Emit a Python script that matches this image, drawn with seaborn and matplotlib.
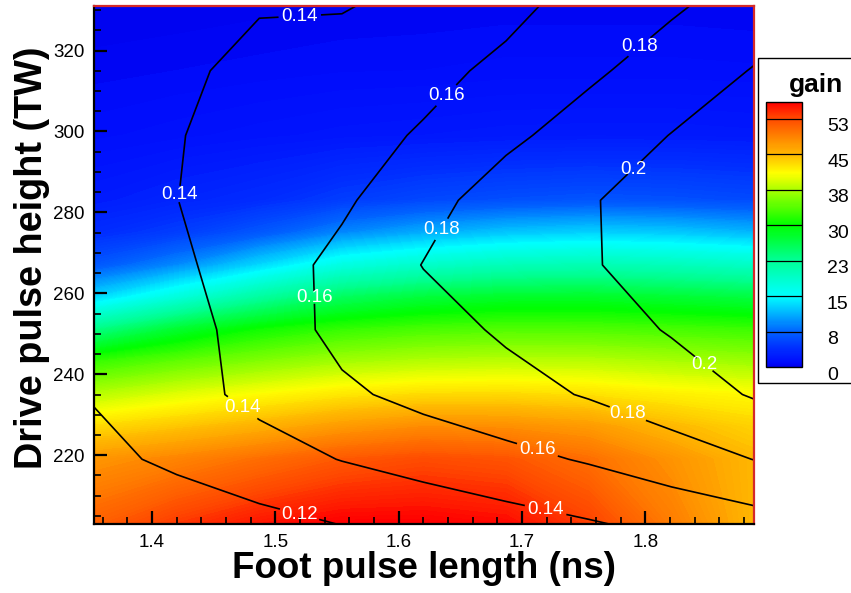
import numpy as np
import matplotlib
matplotlib.use("Agg")
import matplotlib.pyplot as plt
from matplotlib.colors import LinearSegmentedColormap, Normalize
from matplotlib.cm import ScalarMappable
from matplotlib.patches import Rectangle
from matplotlib.ticker import MultipleLocator, FixedLocator
import matplotlib.transforms as mtransforms
import seaborn as sns

# ---------------- data ----------------
foot_ns = [1.353, 1.420, 1.487, 1.554, 1.620, 1.687, 1.754, 1.821, 1.888]

# gain field (colour flood): rows follow gain_rows_tw (bottom -> top)
gain_rows_tw = [203, 219, 227, 235, 243, 251, 259, 267, 275, 283, 299, 315, 331]
gain_203 = [51.0, 53.3, 55.0, 56.0, 56.0, 55.5, 53.0, 49.0, 45.0]
gain_219 = [47.3, 48.5, 50.0, 51.5, 52.3, 51.8, 50.0, 47.5, 45.0]
gain_227 = [43.0, 44.2, 45.5, 47.0, 48.0, 47.8, 47.0, 45.0, 43.5]
gain_235 = [37.9, 39.6, 41.0, 42.2, 42.9, 43.0, 42.6, 41.7, 41.1]
gain_243 = [32.3, 34.2, 35.8, 37.2, 37.9, 38.2, 38.1, 37.5, 36.9]
gain_251 = [23.3, 27.6, 30.5, 32.2, 33.1, 33.5, 33.4, 33.0, 32.5]
gain_259 = [13.0, 17.4, 21.8, 25.3, 27.0, 27.9, 28.0, 27.4, 26.7]
gain_267 = [6.6, 9.3, 13.0, 16.9, 18.7, 19.9, 20.3, 19.8, 19.0]
gain_275 = [3.65, 4.8, 6.6, 9.2, 10.9, 12.1, 12.7, 12.3, 11.4]
gain_283 = [2.3, 3.0, 3.65, 4.8, 5.6, 6.1, 6.4, 6.2, 5.8]
gain_299 = [1.17, 1.4, 1.64, 1.87, 2.0, 2.15, 2.2, 2.2, 2.1]
gain_315 = [0.63, 0.75, 0.86, 0.97, 1.0, 1.1, 1.1, 1.1, 1.05]
gain_331 = [0.25, 0.3, 0.4, 0.5, 0.55, 0.6, 0.6, 0.6, 0.55]

# contoured quantity: rows follow iso_rows_tw (bottom -> top)
iso_rows_tw = [203, 219, 235, 251, 267, 283, 299, 315, 331]
iso_203 = [0.1024, 0.1084, 0.1144, 0.1204, 0.1263, 0.1323, 0.1383, 0.1452, 0.1520]
iso_219 = [0.1150, 0.1236, 0.1322, 0.1406, 0.1475, 0.1544, 0.1618, 0.1710, 0.1803]
iso_235 = [0.1212, 0.1330, 0.1450, 0.1566, 0.1655, 0.1735, 0.1814, 0.1908, 0.2015]
iso_251 = [0.1260, 0.1320, 0.1485, 0.1655, 0.1728, 0.1825, 0.1918, 0.2013, 0.2110]
iso_267 = [0.1310, 0.1365, 0.1504, 0.1651, 0.1805, 0.1896, 0.1985, 0.2075, 0.2160]
iso_283 = [0.1320, 0.1398, 0.1489, 0.1570, 0.1734, 0.1890, 0.1985, 0.2090, 0.2180]
iso_299 = [0.1330, 0.1392, 0.1466, 0.1541, 0.1615, 0.1760, 0.1885, 0.2005, 0.2126]
iso_315 = [0.1340, 0.1350, 0.1473, 0.1510, 0.1555, 0.1635, 0.1767, 0.1889, 0.2010]
iso_331 = [0.1350, 0.1370, 0.1383, 0.1385, 0.1472, 0.1559, 0.1661, 0.1775, 0.1888]

iso_levels = [0.12, 0.14, 0.16, 0.18, 0.2]
legend_levels = [0, 7.5, 15, 22.5, 30, 37.5, 45, 52.5]
legend_labels = ["0", "8", "15", "23", "30", "38", "45", "53"]
gain_max = 56.0
x_ticks = [1.4, 1.5, 1.6, 1.7, 1.8]
x_tick_labels = ["1.4", "1.5", "1.6", "1.7", "1.8"]
y_ticks = [220, 240, 260, 280, 300, 320]
y_tick_labels = ["220", "240", "260", "280", "300", "320"]

# ---------------- style ----------------
sns.set_theme(style="white")
plt.rcParams["font.family"] = ["Liberation Sans", "DejaVu Sans"]
plt.rcParams["text.color"] = "black"

W, H = 851, 593
fig = plt.figure(figsize=(W / 100, H / 100), dpi=100)
fig.patch.set_facecolor("white")

ax_l, ax_r, ax_t, ax_b = 94, 754, 6, 524
ax = fig.add_axes([ax_l / W, 1 - ax_b / H, (ax_r - ax_l) / W, (ax_b - ax_t) / H])
ax.set_axisbelow(False)

XG, YG = np.meshgrid(foot_ns, gain_rows_tw)
G = np.array([gain_203, gain_219, gain_227, gain_235, gain_243, gain_251, gain_259,
              gain_267, gain_275, gain_283, gain_299, gain_315, gain_331])
XR, YR = np.meshgrid(foot_ns, iso_rows_tw)
R = np.array([iso_203, iso_219, iso_235, iso_251, iso_267,
              iso_283, iso_299, iso_315, iso_331])

def c(r, g, b):
    return (r / 255, g / 255, b / 255)

cmap = LinearSegmentedColormap.from_list("tecrainbow", [
    (0.0, c(0, 0, 238)),
    (1.0 / 56, c(0, 12, 252)),
    (3.75 / 56, c(0, 45, 255)),
    (7.5 / 56, c(0, 100, 255)),
    (11.25 / 56, c(0, 180, 255)),
    (15 / 56, c(0, 255, 255)),
    (22.5 / 56, c(0, 255, 150)),
    (30 / 56, c(0, 255, 0)),
    (37.5 / 56, c(170, 255, 0)),
    (41 / 56, c(255, 255, 0)),
    (45 / 56, c(255, 185, 0)),
    (52.5 / 56, c(255, 75, 0)),
    (1.0, c(255, 0, 0)),
])
norm = Normalize(0, gain_max)

cf = ax.contourf(XG, YG, G, levels=np.linspace(0, gain_max, 225), cmap=cmap,
                 norm=norm, extend="both", zorder=1)
cf.set_edgecolor("face")
cf.set_linewidth(0.4)

cs_by_level = {lev: ax.contour(XR, YR, R, levels=[lev], colors="black",
                               linewidths=1.2, zorder=2)
               for lev in iso_levels}

# label placements: (level, x, y, inline spacing)
label_spots = [
    (0.12, 1.520, 205.8, 2),
    (0.14, 1.520, 327.4, 3),
    (0.14, 1.420, 284.6, -10),
    (0.14, 1.468, 229.5, 0),
    (0.14, 1.720, 207.8, 3),
    (0.16, 1.640, 308.5, -4),
    (0.16, 1.5325, 259.0, -12),
    (0.16, 1.713, 221.9, 3),
    (0.18, 1.797, 320.2, -4),
    (0.18, 1.632, 276.3, -6),
    (0.18, 1.786, 230.5, 1),
    (0.2, 1.790, 290.7, -6),
    (0.2, 1.846, 241.7, -3),
]
for lev, lx, ly, sp in label_spots:
    cs_by_level[lev].clabel([lev], manual=[(lx, ly)], inline=True,
                            inline_spacing=sp, fmt="%g", colors="white",
                            fontsize=13.5)
for lev, cs in cs_by_level.items():
    for t in cs.labelTexts:
        t.set_rotation(0)
        t.set_clip_on(False)

ax.set_xlim(foot_ns[0], foot_ns[-1])
ax.set_ylim(iso_rows_tw[0], iso_rows_tw[-1])
ax.xaxis.set_major_locator(FixedLocator(x_ticks))
ax.xaxis.set_minor_locator(MultipleLocator(0.02))
ax.yaxis.set_major_locator(FixedLocator(y_ticks))
ax.yaxis.set_minor_locator(MultipleLocator(5))
ax.set_xticklabels(x_tick_labels)
ax.set_yticklabels(y_tick_labels)
ax.tick_params(which="both", direction="in", bottom=True, left=True, top=False,
               right=False, color="black", labelcolor="black", labelsize=13.5)
ax.tick_params(which="major", length=9.5, width=1.6, pad=7)
ax.tick_params(which="minor", length=5, width=1.2)

for s in ["left", "bottom"]:
    ax.spines[s].set_color("black")
    ax.spines[s].set_linewidth(1.6)
for s in ["top", "right"]:
    ax.spines[s].set_color("#d42a2a")
    ax.spines[s].set_linewidth(1.6)
for s in ax.spines.values():
    s.set_zorder(5)

ax.set_xlabel("Foot pulse length (ns)", fontsize=26.5, fontweight="bold", color="black")
ax.xaxis.set_label_coords(0.5, (ax_b - 551) / (ax_b - ax_t))
ax.set_ylabel("Drive pulse height (TW)", fontsize=27.3, fontweight="bold", color="black")
ax.yaxis.set_label_coords((50 - ax_l) / (ax_r - ax_l), (ax_b - 258) / (ax_b - ax_t))

# ---------------- legend box ----------------
fig.add_artist(Rectangle((758 / W, 1 - 383 / H), (860 - 758) / W, (383 - 58) / H,
                         transform=fig.transFigure, fill=False, lw=1.0,
                         ec="black"))
fig.text(816 / W, 1 - 92 / H, "gain", ha="center", va="baseline",
         fontsize=19, fontweight="bold", color="black")

cax = fig.add_axes([766 / W, 1 - 367 / H, 36 / W, (367 - 102) / H])
sm = ScalarMappable(norm=norm, cmap=cmap)
cb = fig.colorbar(sm, cax=cax, ticks=legend_levels)
cb.ax.set_yticklabels(legend_labels)
cb.ax.tick_params(length=0, labelsize=14, pad=18, labelcolor="black")
cb.outline.set_edgecolor("black")
cb.outline.set_linewidth(1.0)
for v in legend_levels[1:]:
    cax.axhline(v, color="black", lw=0.9)
shift = mtransforms.ScaledTranslation(0, -6 / 100, fig.dpi_scale_trans)
for lab in cax.get_yticklabels():
    lab.set_transform(lab.get_transform() + shift)

fig.savefig("out.png", dpi=100)
